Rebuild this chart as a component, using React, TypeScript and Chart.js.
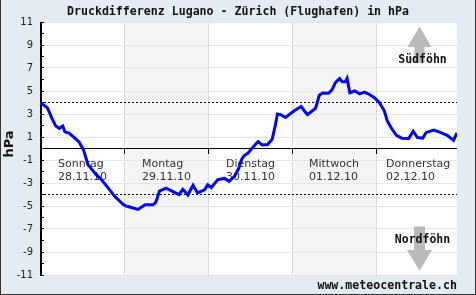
import React, { useEffect, useRef } from "react";
import { Chart, registerables } from "chart.js";

Chart.register(...registerables);

const chartTitle = "Druckdifferenz Lugano - Zürich (Flughafen) in hPa";
const yAxisTitle = "hPa";
const sourceText = "www.meteocentrale.ch";
const southLabel = "Südföhn";
const northLabel = "Nordföhn";

const dayNames = ["Sonntag", "Montag", "Dienstag", "Mittwoch", "Donnerstag"];
const dayDates = ["28.11.10", "29.11.10", "30.11.10", "01.12.10", "02.12.10"];

const Y_MIN = -11;
const Y_MAX = 11;
const X_MAX = 119.1; // hours shown
const HOURS_PER_DAY = 24;
const thresholds = [4, -4];

// hours since 28.11.10 00:00
const hours = [
  0, 2.1, 3.6, 4.5, 5.5, 6.5, 7.1, 8.3, 8.8, 9.8, 11.2, 12.4, 13.7, 16, 17.5,
  19.4, 21.3, 23.7, 24.6, 28, 30, 32.3, 33, 33.4, 34.1, 36, 38, 39.7, 40.8,
  42.2, 43.7, 45, 47, 47.9, 48.9, 50.8, 52.7, 54, 55.6, 56.8, 57.5, 58.2, 59.4,
  60.5, 62.3, 63.5, 65, 66.3, 67.2, 67.8, 68.7, 70.1, 72.7, 74.6, 75.7, 76.4,
  78.7, 79.8, 80.8, 82.4, 83.4, 84.4, 85.6, 86.3, 87.2, 87.7, 88.5, 89.9, 91.3,
  92.7, 94.1, 95.6, 96.9, 98.3, 99.2, 100.5, 101.8, 103.3, 105.3, 106.6, 107.8,
  109.3, 110.3, 112.5, 114.3, 116.3, 118.1, 119.1,
];

// pressure difference Lugano - Zürich, hPa
const pressureDiff = [
  4.0, 3.55, 2.5, 1.95, 1.75, 1.95, 1.45, 1.35, 1.2, 0.95, 0.55, -0.1, -1.4,
  -2.25, -2.7, -3.4, -4.15, -4.85, -5.0, -5.3, -4.9, -4.9, -4.7, -4.4, -3.7,
  -3.45, -3.75, -4.0, -3.55, -4.05, -3.2, -3.85, -3.6, -3.15, -3.4, -2.7, -2.6,
  -2.85, -2.4, -1.7, -1.0, -0.65, -0.4, 0.0, 0.6, 0.3, 0.35, 0.8, 2.0, 3.0,
  2.95, 2.7, 3.3, 3.65, 3.2, 2.95, 3.5, 4.65, 4.83, 4.8, 5.1, 5.75, 6.08, 5.8,
  5.8, 6.1, 4.85, 5.0, 4.75, 4.9, 4.7, 4.4, 4.0, 3.3, 2.4, 1.7, 1.15, 0.9, 0.88,
  1.5, 0.95, 0.9, 1.4, 1.6, 1.4, 1.15, 0.7, 1.35,
];

const MONO = "'DejaVu Sans Mono', 'Liberation Mono', monospace";
const SANS = "'DejaVu Sans', Verdana, sans-serif";

const decorPlugin = {
  id: "decor",
  beforeDraw(chart: any) {
    const { ctx, chartArea: a, scales } = chart;
    const x = scales.x;
    ctx.save();
    ctx.fillStyle = "#e2ecf2";
    ctx.fillRect(0, 0, chart.width, chart.height);
    ctx.fillStyle = "#ffffff";
    ctx.fillRect(a.left, a.top, a.right - a.left, a.bottom - a.top);
    // shaded days
    for (let d = 0; d < dayNames.length; d++) {
      if (d % 2 === 1) {
        const x0 = Math.round(x.getPixelForValue(d * HOURS_PER_DAY));
        const x1 = Math.min(a.right, Math.round(x.getPixelForValue((d + 1) * HOURS_PER_DAY)));
        ctx.fillStyle = "#f5f5f5";
        ctx.fillRect(x0, a.top, x1 - x0, a.bottom - a.top);
      }
    }
    // day separators
    ctx.fillStyle = "#dcdcdc";
    for (let d = 1; d < dayNames.length; d++) {
      const px = Math.round(x.getPixelForValue(d * HOURS_PER_DAY));
      ctx.fillRect(px, a.top, 1, a.bottom - a.top);
    }
    ctx.restore();
  },
  beforeDatasetsDraw(chart: any) {
    const { ctx, chartArea: a, scales } = chart;
    const x = scales.x;
    const y = scales.y;
    ctx.save();
    // threshold dotted lines
    ctx.strokeStyle = "#000";
    ctx.lineWidth = 1;
    ctx.setLineDash([2, 2]);
    thresholds.forEach((t) => {
      const py = Math.floor(y.getPixelForValue(t)) + 0.5;
      ctx.beginPath();
      ctx.moveTo(a.left, py);
      ctx.lineTo(a.right, py);
      ctx.stroke();
    });
    ctx.setLineDash([]);
    // zero line
    const y0 = y.getPixelForValue(0);
    const y0p = Math.floor(y0);
    ctx.fillStyle = "#000";
    ctx.fillRect(a.left, y0p, a.right - a.left, 1);
    // day ticks on zero line
    for (let d = 1; d < dayNames.length; d++) {
      const px = Math.round(x.getPixelForValue(d * HOURS_PER_DAY));
      ctx.fillRect(px, y0p, 1, 6);
    }
    // y axis line + minor ticks
    ctx.fillRect(a.left, a.top, 2, a.bottom - a.top + 1);
    for (let v = Y_MIN; v <= Y_MAX; v++) {
      const py = Math.floor(y.getPixelForValue(v));
      ctx.fillRect(a.left, py, 4, 1);
    }
    // day labels
    ctx.font = `11px ${SANS}`;
    ctx.fillStyle = "#333";
    ctx.textAlign = "left";
    ctx.textBaseline = "alphabetic";
    for (let d = 0; d < dayNames.length; d++) {
      const cx = x.getPixelForValue((d + 0.5) * HOURS_PER_DAY);
      const w = Math.max(ctx.measureText(dayNames[d]).width, ctx.measureText(dayDates[d]).width);
      const sx = Math.round(cx - w / 2);
      ctx.fillText(dayNames[d], sx, y0 + 18.5);
      ctx.fillText(dayDates[d], sx, y0 + 31.5);
    }
    // arrows
    const ax = a.right - 37.5;
    ctx.fillStyle = "#bababa";
    // up arrow
    const upTip = y.getPixelForValue(10.6);
    const upBase = y.getPixelForValue(8.83);
    const upShaft = y.getPixelForValue(7.45);
    ctx.beginPath();
    ctx.moveTo(ax, upTip);
    ctx.lineTo(ax + 12, upBase);
    ctx.lineTo(ax + 5, upBase);
    ctx.lineTo(ax + 5, upShaft);
    ctx.lineTo(ax - 5, upShaft);
    ctx.lineTo(ax - 5, upBase);
    ctx.lineTo(ax - 12, upBase);
    ctx.closePath();
    ctx.fill();
    // down arrow
    const dnTip = y.getPixelForValue(-10.63);
    const dnBase = y.getPixelForValue(-8.83);
    const dnShaft = y.getPixelForValue(-6.78);
    ctx.beginPath();
    ctx.moveTo(ax, dnTip);
    ctx.lineTo(ax + 12.5, dnBase);
    ctx.lineTo(ax + 5.5, dnBase);
    ctx.lineTo(ax + 5.5, dnShaft);
    ctx.lineTo(ax - 5.5, dnShaft);
    ctx.lineTo(ax - 5.5, dnBase);
    ctx.lineTo(ax - 12.5, dnBase);
    ctx.closePath();
    ctx.fill();
    ctx.font = `bold 11.5px ${MONO}`;
    ctx.fillStyle = "#111";
    ctx.textAlign = "center";
    ctx.fillText(southLabel, ax + 3, y.getPixelForValue(7.47));
    ctx.fillText(northLabel, ax + 3, y.getPixelForValue(-8.2));
    ctx.restore();
  },
  afterDraw(chart: any) {
    const { ctx, chartArea: a } = chart;
    ctx.save();
    ctx.fillStyle = "#111";
    ctx.font = `bold 11.6px ${MONO}`;
    ctx.textAlign = "center";
    ctx.textBaseline = "alphabetic";
    ctx.fillText(chartTitle, chart.width / 2, 15);
    ctx.textAlign = "right";
    ctx.fillText(sourceText, a.right, 289);
    // y title
    ctx.font = `bold 13px ${SANS}`;
    ctx.textAlign = "center";
    ctx.textBaseline = "middle";
    ctx.translate(10, 144);
    ctx.rotate(-Math.PI / 2);
    ctx.fillText(yAxisTitle, 0, 0);
    ctx.restore();
    // frame
    ctx.save();
    ctx.fillStyle = "#333";
    ctx.fillRect(0, 0, 1, chart.height);
    ctx.fillRect(chart.width - 1, 0, 1, chart.height);
    ctx.fillRect(0, chart.height - 1, chart.width, 1);
    ctx.restore();
  },
};

export default function App() {
  const canvasRef = useRef<HTMLCanvasElement | null>(null);

  useEffect(() => {
    const canvas = canvasRef.current;
    if (!canvas) return;
    const chart = new Chart(canvas, {
      type: "line",
      data: {
        datasets: [
          {
            data: hours.map((h, i) => ({ x: h, y: pressureDiff[i] })),
            borderColor: "#0000ff",
            borderWidth: 3,
            pointRadius: 0,
            tension: 0,
            fill: false,
          },
        ],
      },
      options: {
        responsive: false,
        animation: false,
        devicePixelRatio: 1,
        layout: { padding: { left: 0, top: 22, right: 19, bottom: 20 } },
        plugins: {
          legend: { display: false },
          title: { display: false },
          tooltip: { enabled: false },
        },
        scales: {
          x: { type: "linear", display: false, min: 0, max: X_MAX },
          y: {
            min: Y_MIN,
            max: Y_MAX,
            afterFit(scale: any) {
              scale.width = 40;
            },
            border: { display: false },
            grid: {
              drawTicks: false,
              lineWidth: 1,
              color: (c: any) =>
                c.tick && Math.abs(c.tick.value) % 2 === 1 ? "#e6e6e6" : "rgba(0,0,0,0)",
            },
            ticks: {
              stepSize: 1,
              autoSkip: false,
              padding: 7,
              color: "#222",
              font: { family: SANS, size: 10 },
              callback: (v: any) => (Math.abs(Number(v)) % 2 === 1 ? String(v) : ""),
            },
          },
        },
      },
      plugins: [decorPlugin],
    });
    return () => chart.destroy();
  }, []);

  return (
    <div style={{ position: "fixed", left: 0, top: 0, width: 476, height: 295 }}>
      <canvas ref={canvasRef} width={476} height={295} style={{ display: "block" }} />
    </div>
  );
}
